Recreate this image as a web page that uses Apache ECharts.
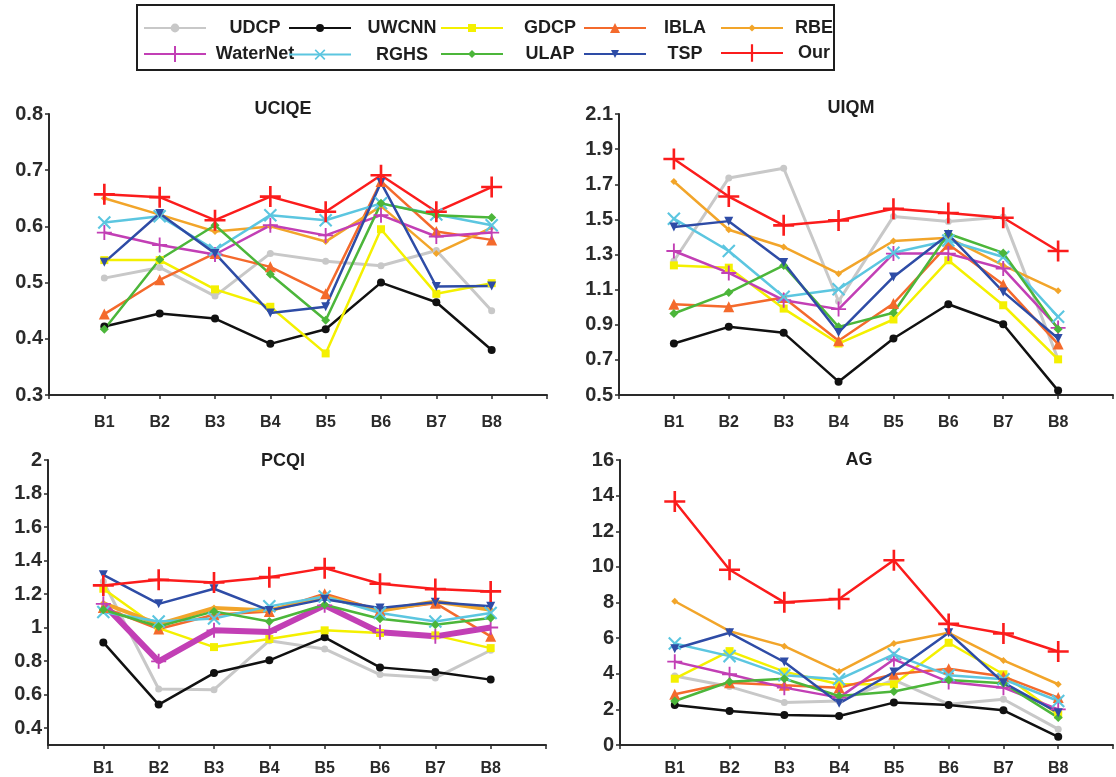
<!DOCTYPE html>
<html><head><meta charset="utf-8">
<script src="https://cdn.jsdelivr.net/npm/echarts@6/dist/echarts.min.js"></script>
<style>html,body{margin:0;padding:0;background:#fff}#c{width:1116px;height:777px}</style>
</head><body><div id="c"></div><script>
// ---- data ----
const categories = ['B1','B2','B3','B4','B5','B6','B7','B8'];
const methods = ['UDCP','UWCNN','GDCP','IBLA','RBE','WaterNet','RGHS','ULAP','TSP','Our'];
const metricTitles = ['UCIQE','UIQM','PCQI','AG'];

const UCIQE_UDCP     = [0.508, 0.527, 0.476, 0.552, 0.538, 0.530, 0.557, 0.450];
const UCIQE_UWCNN    = [0.422, 0.445, 0.436, 0.391, 0.417, 0.500, 0.465, 0.380];
const UCIQE_GDCP     = [0.540, 0.540, 0.488, 0.457, 0.374, 0.595, 0.480, 0.499];
const UCIQE_IBLA     = [0.444, 0.505, 0.552, 0.528, 0.480, 0.680, 0.591, 0.576];
const UCIQE_RBE      = [0.650, 0.621, 0.591, 0.600, 0.573, 0.636, 0.552, 0.598];
const UCIQE_WaterNet = [0.589, 0.567, 0.550, 0.602, 0.584, 0.620, 0.582, 0.589];
const UCIQE_RGHS     = [0.607, 0.618, 0.558, 0.620, 0.611, 0.641, 0.621, 0.602];
const UCIQE_ULAP     = [0.417, 0.541, 0.602, 0.515, 0.433, 0.641, 0.620, 0.616];
const UCIQE_TSP      = [0.536, 0.623, 0.552, 0.446, 0.457, 0.678, 0.493, 0.494];
const UCIQE_Our      = [0.657, 0.652, 0.611, 0.653, 0.626, 0.691, 0.626, 0.670];

const UIQM_UDCP     = [1.263, 1.736, 1.791, 1.034, 1.517, 1.488, 1.513, 0.703];
const UIQM_UWCNN    = [0.793, 0.888, 0.854, 0.576, 0.822, 1.017, 0.903, 0.525];
const UIQM_GDCP     = [1.238, 1.225, 0.992, 0.793, 0.930, 1.267, 1.011, 0.703];
const UIQM_IBLA     = [1.017, 1.002, 1.055, 0.809, 1.021, 1.358, 1.129, 0.790];
const UIQM_RBE      = [1.716, 1.441, 1.343, 1.191, 1.377, 1.396, 1.238, 1.093];
const UIQM_WaterNet = [1.320, 1.195, 1.040, 0.989, 1.305, 1.305, 1.220, 0.882];
const UIQM_RGHS     = [1.504, 1.320, 1.059, 1.102, 1.310, 1.380, 1.286, 0.945];
const UIQM_ULAP     = [0.964, 1.083, 1.238, 0.888, 0.968, 1.418, 1.309, 0.875];
const UIQM_TSP      = [1.456, 1.490, 1.254, 0.856, 1.172, 1.414, 1.087, 0.822];
const UIQM_Our      = [1.844, 1.630, 1.466, 1.494, 1.560, 1.536, 1.509, 1.320];

const PCQI_UDCP     = [1.275, 0.634, 0.630, 0.922, 0.873, 0.720, 0.700, 0.865];
const PCQI_UWCNN    = [0.912, 0.541, 0.729, 0.805, 0.942, 0.763, 0.735, 0.690];
const PCQI_GDCP     = [1.232, 0.997, 0.884, 0.932, 0.984, 0.968, 0.954, 0.878];
const PCQI_IBLA     = [1.120, 0.992, 1.077, 1.097, 1.202, 1.103, 1.146, 0.948];
const PCQI_RBE      = [1.146, 1.021, 1.117, 1.103, 1.186, 1.101, 1.156, 1.107];
const PCQI_WaterNet = [1.142, 0.799, 0.984, 0.974, 1.133, 0.972, 0.948, 1.001];
const PCQI_RGHS     = [1.093, 1.037, 1.055, 1.127, 1.186, 1.087, 1.037, 1.087];
const PCQI_ULAP     = [1.107, 1.007, 1.097, 1.037, 1.137, 1.053, 1.017, 1.057];
const PCQI_TSP      = [1.315, 1.142, 1.232, 1.103, 1.170, 1.117, 1.152, 1.127];
const PCQI_Our      = [1.252, 1.285, 1.270, 1.301, 1.355, 1.262, 1.230, 1.216];

const AG_UDCP     = [3.87, 3.28, 2.38, 2.47, 3.65, 2.29, 2.57, 0.89];
const AG_UWCNN    = [2.25, 1.91, 1.69, 1.63, 2.38, 2.25, 1.95, 0.46];
const AG_GDCP     = [3.72, 5.27, 4.12, 3.41, 3.41, 5.74, 3.97, 1.70];
const AG_IBLA     = [2.85, 3.50, 3.35, 3.22, 3.97, 4.28, 3.84, 2.66];
const AG_RBE      = [8.07, 6.39, 5.55, 4.12, 5.70, 6.30, 4.75, 3.41];
const AG_WaterNet = [4.68, 3.97, 3.22, 2.66, 4.81, 3.54, 3.22, 2.00];
const AG_RGHS     = [5.70, 4.99, 3.91, 3.69, 5.09, 3.91, 3.69, 2.47];
const AG_ULAP     = [2.47, 3.55, 3.72, 2.75, 3.00, 3.65, 3.46, 1.54];
const AG_TSP      = [5.40, 6.30, 4.66, 2.34, 4.10, 6.30, 3.50, 1.81];
const AG_Our      = [13.67, 9.84, 8.01, 8.20, 10.37, 6.80, 6.26, 5.25];

const UCIQE_ticks = [0.3, 0.4, 0.5, 0.6, 0.7, 0.8];
const UIQM_ticks  = [0.5, 0.7, 0.9, 1.1, 1.3, 1.5, 1.7, 1.9, 2.1];
const PCQI_ticks  = [0.4, 0.6, 0.8, 1, 1.2, 1.4, 1.6, 1.8, 2];
const AG_ticks    = [0, 2, 4, 6, 8, 10, 12, 14, 16];

// ---- assembly ----
const metricData = [
  [UCIQE_UDCP, UCIQE_UWCNN, UCIQE_GDCP, UCIQE_IBLA, UCIQE_RBE, UCIQE_WaterNet, UCIQE_RGHS, UCIQE_ULAP, UCIQE_TSP, UCIQE_Our],
  [UIQM_UDCP, UIQM_UWCNN, UIQM_GDCP, UIQM_IBLA, UIQM_RBE, UIQM_WaterNet, UIQM_RGHS, UIQM_ULAP, UIQM_TSP, UIQM_Our],
  [PCQI_UDCP, PCQI_UWCNN, PCQI_GDCP, PCQI_IBLA, PCQI_RBE, PCQI_WaterNet, PCQI_RGHS, PCQI_ULAP, PCQI_TSP, PCQI_Our],
  [AG_UDCP, AG_UWCNN, AG_GDCP, AG_IBLA, AG_RBE, AG_WaterNet, AG_RGHS, AG_ULAP, AG_TSP, AG_Our]
];
const yTicks = [UCIQE_ticks, UIQM_ticks, PCQI_ticks, AG_ticks];
const yRange = [[0.3, 0.8], [0.5, 2.1], [0.3, 2.0], [0, 16]];

const PLUS = 'path://M8.75,0H11.25V8.75H20V11.25H11.25V20H8.75V11.25H0V8.75H8.75Z';
const styles = {
  UDCP:     {color:'#c8c8c8', symbol:'circle',   size:7,  rot:0,   lw:3,   leg:11},
  UWCNN:    {color:'#111111', symbol:'circle',   size:8,  rot:0,   lw:2.5, leg:10},
  GDCP:     {color:'#f4f000', symbol:'rect',     size:8,  rot:0,   lw:2.5, leg:10},
  IBLA:     {color:'#f46a2c', symbol:'triangle', size:11, rot:0,   lw:2.5, leg:12.5},
  RBE:      {color:'#f2a52a', symbol:'diamond',  size:7,  rot:0,   lw:2.5, leg:9},
  WaterNet: {color:'#c23fb5', symbol:PLUS,       size:15, rot:0,   lw:2.5, leg:20},
  RGHS:     {color:'#5cc6e0', symbol:PLUS,       size:17, rot:45,  lw:2.5, leg:17},
  ULAP:     {color:'#4cb63a', symbol:'diamond',  size:9,  rot:0,   lw:2.5, leg:10},
  TSP:      {color:'#2e4ca6', symbol:'triangle', size:9,  rot:180, lw:2.5, leg:10},
  Our:      {color:'#fb1c1c', symbol:PLUS,       size:21, rot:0,   lw:2.5, leg:22}
};
const lwOverride = {2: {WaterNet: 6, RBE: 4}};

const grids = [
  {left:49,  top:114, width:498, height:281},
  {left:619, top:114, width:496, height:281},
  {left:48,  top:460, width:498, height:289},
  {left:620, top:460, width:495, height:289}
];
const xLabelMargin = [20, 20, 16, 16];
const FONT = '"Liberation Sans", Arial, sans-serif';
const AX = '#2a2a2a';

const xAxis = grids.map((g, i) => ({
  type:'value', gridIndex:i, min:0, max:9, interval:1,
  axisLine:{show:true, lineStyle:{color:AX, width:2}},
  axisTick:{show:true, inside:false, length:4, lineStyle:{color:AX, width:1.5}},
  splitLine:{show:false},
  axisLabel:{margin:xLabelMargin[i], fontSize:16, fontWeight:'bold', color:AX, fontFamily:FONT,
    formatter: v => categories[v - 1] || ''}
}));
const yAxis = grids.map((g, i) => ({
  type:'value', gridIndex:i, min:yRange[i][0], max:yRange[i][1],
  axisLine:{show:true, lineStyle:{color:AX, width:2}},
  axisTick:{show:true, inside:false, length:4, lineStyle:{color:AX, width:1.5}, customValues: yTicks[i]},
  splitLine:{show:false},
  axisLabel:{margin:6, fontSize:20, fontWeight:'bold', color:AX, fontFamily:FONT, customValues: yTicks[i],
    showMinLabel:true, showMaxLabel:true}
}));

const series = [];
metricData.forEach((arrs, gi) => {
  arrs.forEach((vals, mi) => {
    const name = methods[mi];
    const s = styles[name];
    const lw = (lwOverride[gi] && lwOverride[gi][name]) || s.lw;
    series.push({
      type:'line', name, xAxisIndex:gi, yAxisIndex:gi,
      data: vals.map((v, k) => [k + 1, v]),
      symbol:s.symbol, symbolSize:s.size, symbolRotate:s.rot,
      showAllSymbol:true, animation:false,
      lineStyle:{color:s.color, width:lw},
      itemStyle:{color:s.color},
      emphasis:{disabled:true}
    });
  });
});

// legend: one component per item so each marker can have its own size
const legendCols = [
  {L:143, names:['UDCP','WaterNet'], W:88},
  {L:288, names:['UWCNN','RGHS'], W:92},
  {L:440, names:['GDCP','ULAP'], W:84},
  {L:583, names:['IBLA','TSP'], W:68},
  {L:720, names:['RBE','Our'], W:52}
];
const rowCenters = [29, 55];
const TEXT_H = 20;
const legend = [];
legendCols.forEach(c => {
  c.names.forEach((n, r) => {
    const h = styles[n].leg;
    legend.push({
      orient:'horizontal', left:c.L, top:rowCenters[r] - Math.max(h, TEXT_H) / 2,
      itemWidth:62, itemHeight:h, padding:0, selectedMode:false, data:[n],
      formatter: nm => '{t|' + nm + '}',
      textStyle:{rich:{t:{width:c.W, align:'center', fontSize:18, fontWeight:'bold', color:'#1e1e1e', fontFamily:FONT, lineHeight:TEXT_H}}}
    });
  });
});

const titlePos = [[283,109],[851,108],[283,461],[859,460]];
const graphic = [
  {type:'rect', shape:{x:137, y:5, width:697, height:65}, style:{fill:'none', stroke:'#1e1e1e', lineWidth:2}, silent:true}
].concat(metricTitles.map((t, i) => ({
  type:'text', x:titlePos[i][0], y:titlePos[i][1], silent:true,
  style:{text:t, font:'bold 18px ' + FONT, fill:'#1e1e1e', align:'center', verticalAlign:'middle'}
})));

const chart = echarts.init(document.getElementById('c'), null, {renderer:'canvas'});
chart.setOption({
  backgroundColor:'#ffffff',
  animation:false,
  textStyle:{fontFamily:FONT},
  grid:grids, xAxis, yAxis, series, legend, graphic
});
</script></body></html>
